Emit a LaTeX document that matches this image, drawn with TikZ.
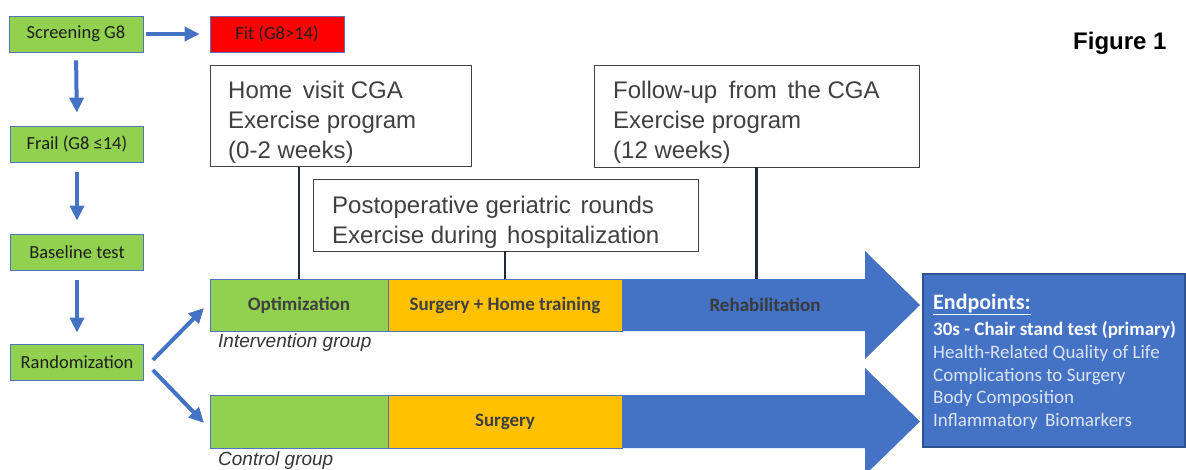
\documentclass[tikz,border=0pt]{standalone}
\usepackage{fontspec}
\newfontfamily\calfont{Carlito}
\newfontfamily\arifont{Liberation Sans}
\usetikzlibrary{arrows.meta}
\definecolor{gr}{HTML}{92D050}
\definecolor{og}{HTML}{FFC000}
\definecolor{bl}{HTML}{4472C4}
\definecolor{bord}{HTML}{4F73BE}
\definecolor{dbord}{HTML}{2F528F}
\definecolor{txtd}{HTML}{1E1E1E}
\definecolor{txtg}{HTML}{404040}
\definecolor{navy}{HTML}{1F2A3A}
\definecolor{lite}{HTML}{DCE4F2}
\begin{document}
\begin{tikzpicture}[x=1pt,y=-1pt,
  sbox/.style={draw=bord, line width=0.8pt, fill=gr, minimum width=133pt, minimum height=36pt, inner sep=0pt, font=\calfont\fontsize{18.5}{22}\selectfont, text=txtd},
  barbox/.style={draw=bord, line width=0.8pt, minimum height=52pt, inner sep=0pt, font=\calfont\bfseries\fontsize{19}{22}\selectfont, text=txtg},
  tbox/.style={draw=txtg, line width=0.9pt, fill=white},
  ttext/.style={anchor=base west, inner sep=0pt, font=\arifont\fontsize{24}{28}\selectfont, text=txtg},
  blarrow/.style={draw=bl, line width=4pt, -{Triangle[width=14pt,length=15pt]}},
  vline/.style={draw=navy, line width=2.6pt},
  grp/.style={anchor=base west, inner sep=0pt, font=\arifont\itshape\fontsize{19}{22}\selectfont, text=txtd!90},
  ept/.style={anchor=base west, inner sep=0pt, font=\calfont\fontsize{19}{22}\selectfont, text=lite}]
\clip (0,0) rectangle (1186,469);
\fill[white] (0,0) rectangle (1186,469);

% left column
\node[sbox, minimum width=134pt] (scr) at (76,34) {Screening G8};
\node[sbox, minimum width=134pt, fill=red] (fit) at (277,34) {Fit (G8>14)};
\node[sbox] (frail) at (77,144) {Frail (G8 ≤14)};
\node[sbox] (base) at (77,252) {Baseline test};
\node[sbox] (rnd) at (77,362) {Randomization};

\draw[blarrow, shorten <=3pt, shorten >=10pt] (scr.east) -- (fit.west);
\draw[blarrow, shorten <=8pt, shorten >=13pt] (scr.south) -- (frail.north);
\draw[blarrow, shorten <=10pt, shorten >=13pt] (frail.south) -- (base.north);
\draw[blarrow, shorten <=10pt, shorten >=11pt] (base.south) -- (rnd.north);

% big arrows
\fill[bl] (620,279) -- (865,279) -- (865,251) -- (920,305) -- (865,359) -- (865,331) -- (620,331) -- cycle;
\fill[bl] (620,395) -- (865,395) -- (865,368) -- (920,421.5) -- (865,475) -- (865,448) -- (620,448) -- cycle;

% bars
\node[barbox, fill=gr, minimum width=178pt] (opt) at (299,305) {Optimization};
\node[barbox, fill=og, minimum width=234pt] (shm) at (505,305) {Surgery + Home training};
\node[barbox, fill=gr, minimum width=178pt, minimum height=53pt] (cg) at (299,421.5) {};
\node[barbox, fill=og, minimum width=234pt, minimum height=53pt] (sg) at (505,421.5) {Surgery};
\node[inner sep=0pt, font=\calfont\bfseries\fontsize{19}{22}\selectfont, text=txtg!90!black] (reh) at (765,305) {Rehabilitation};

\node[grp] (ig) at (218,347) {Intervention group};
\node[grp] (cgl) at (218,465) {Control group};

% text boxes
\node[tbox, minimum width=261pt, minimum height=101pt, inner sep=0pt] (home) at (340.5,116) {};
\node[ttext] (h1) at (228,98) {Home\hspace{4pt} visit CGA};
\node[ttext] (h2) at (228,128) {Exercise program};
\node[ttext] (h3) at (228,158) {(0-2 weeks)};

\node[tbox, minimum width=325pt, minimum height=102pt, inner sep=0pt] (fol) at (756.5,116) {};
\node[ttext] (f1) at (613,98) {Follow-up\hspace{5pt} from\hspace{4pt} the CGA};
\node[ttext] (f2) at (613,128) {Exercise program};
\node[ttext] (f3) at (613,158) {(12 weeks)};

\node[tbox, minimum width=385pt, minimum height=72pt, inner sep=0pt] (post) at (505.5,215) {};
\node[ttext] (p1) at (332,213) {Postoperative geriatric\hspace{3pt} rounds};
\node[ttext] (p2) at (332,243) {Exercise during\hspace{3pt} hospitalization};

\draw[vline] (opt.north |- home.south) -- (opt.north);
\draw[vline] (shm.north |- post.south) -- (shm.north);
\coordinate (rtop) at (fol.south |- opt.north);
\draw[vline] (fol.south) -- (rtop);

% randomization arrows
\coordinate (t1) at (204,308);
\coordinate (t2) at (204,423);
\draw[blarrow] ([shift={(9,-2)}]rnd.east) -- (t1);
\draw[blarrow] ([shift={(9,8)}]rnd.east) -- (t2);

% endpoints
\node[draw=dbord, line width=1.2pt, fill=bl, minimum width=262pt, minimum height=173pt, inner sep=0pt] (ep) at (1054,360.5) {};
\node[ept, text=white, font=\calfont\bfseries\fontsize{22}{26}\selectfont] (e0) at (933,309) {\underline{Endpoints:}};
\node[ept, text=white, font=\calfont\bfseries\fontsize{19}{22}\selectfont] (e1) at (933,335) {30s - Chair stand test (primary)};
\node[ept] (e2) at (933,358) {Health-Related Quality of Life};
\node[ept] (e3) at (933,381) {Complications to Surgery};
\node[ept] (e4) at (933,403) {Body Composition};
\node[ept] (e5) at (933,426) {Inflammatory\hspace{3pt} Biomarkers};

\node[anchor=base west, inner sep=0pt, font=\arifont\bfseries\fontsize{24}{28}\selectfont, text=black] (fig) at (1073,49) {Figure 1};
\end{tikzpicture}
\end{document}
